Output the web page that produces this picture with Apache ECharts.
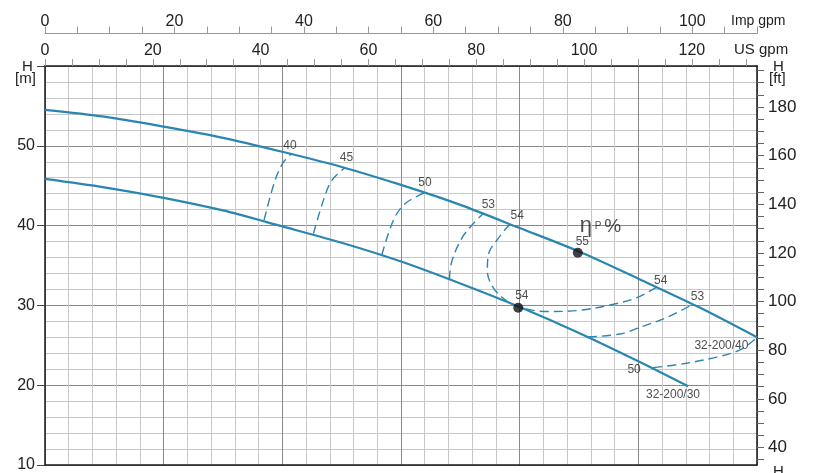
<!DOCTYPE html>
<html><head><meta charset="utf-8">
<script src="https://cdn.jsdelivr.net/npm/echarts@6/dist/echarts.min.js"></script>
<style>html,body{margin:0;padding:0;background:#fff}#c{width:827px;height:473px}</style>
</head><body><div id="c"></div>
<script>
// Flow in m3/h (bottom scale, hidden), head in m
const flowQ40 = [0, 2.5, 5, 7.5, 10, 12.5, 15, 17.5, 20, 22.5, 25, 27.5, 30];
const head40  = [54.5, 53.65, 52.4, 51.0, 49.25, 47.35, 45.1, 42.6, 39.7, 36.75, 33.35, 29.85, 26.0];
const flowQ30 = [0, 2.5, 5, 7.5, 10, 12.5, 15, 17.5, 20, 22.5, 25, 27.1];
const head30  = [45.86, 44.8, 43.48, 41.9, 39.9, 37.85, 35.5, 32.75, 29.8, 26.55, 23.0, 19.86];

// Iso-efficiency lines [Q, H]
const eff40  = [[9.23, 40.7], [9.69, 45.65], [10.04, 47.93], [10.40, 49.05]];
const eff45  = [[11.31, 39.0], [11.73, 43.16], [12.08, 45.65], [12.64, 47.25]];
const eff50  = [[14.19, 36.3], [14.68, 40.68], [15.17, 42.75], [16.01, 44.15]];
const eff53  = [[17.04, 33.25], [17.14, 35.52], [17.56, 38.41], [18.05, 40.27], [18.47, 41.52]];
const eff54  = [[19.59, 40.2], [19.10, 38.41], [18.68, 36.34], [18.64, 34.28], [18.89, 32.21], [19.45, 30.56], [19.94, 29.81], [21.14, 29.23], [22.54, 29.39], [23.95, 30.14], [24.93, 30.97], [25.78, 32.3]];
const eff53b = [[22.88, 26.05], [24.23, 26.41], [25.07, 27.25], [26.2, 28.49], [27.18, 29.94]];
const eff50b = [[25.63, 22.2], [26.9, 22.69], [28.3, 23.52], [29.29, 24.43], [29.85, 25.6], [30, 26.0]];

const bepPoints = [[19.94, 29.7], [22.45, 36.6]];
const effLabels = [[10.32, 50.07, '40'], [12.70, 48.46, '45'], [16.01, 45.36, '50'], [18.68, 42.63, '53'], [19.90, 41.18, '54'], [20.09, 31.18, '54'], [22.64, 38.0, '55'], [25.94, 33.04, '54'], [27.49, 31.05, '53'], [24.82, 21.91, '50']];
const curveNames = [[28.5, 25.0, '32-200/40'], [26.46, 18.81, '32-200/30']];
const etaLabel = [[23.4, 39.9]];

// Axis tick values
const usMax = 132.086, impMax = 110;
const usTicks = [], impTicks = [], ftTicks = [];
for (let v = 0; v <= 130; v += 5) usTicks.push(v);
for (let v = 0; v <= 110; v += 5) impTicks.push(v);
for (let v = 35; v <= 195; v += 5) ftTicks.push(v);
const usLabels = [0, 20, 40, 60, 80, 100, 120];
const impLabels = [0, 20, 40, 60, 80, 100];
const ftLabels = [40, 60, 80, 100, 120, 140, 160, 180];
const ftMin = 32.8084, ftMax = 196.85;

const blue = '#2a86b0';
const font = '"Liberation Sans", Arial, sans-serif';
const txt = '#222';

function dashed(data) {
  return { type: 'line', data: data, smooth: 0.35, symbol: 'none', silent: true,
    lineStyle: { color: blue, width: 1.4, type: [9, 5] }, z: 3 };
}

const chart = echarts.init(document.getElementById('c'), null, { renderer: 'canvas' });
chart.setOption({
  animation: false,
  backgroundColor: '#fff',
  textStyle: { fontFamily: font },
  grid: { left: 45, right: 70, top: 66, bottom: 4, containLabel: false },
  xAxis: [
    { type: 'value', min: 0, max: 30, interval: 5, position: 'bottom',
      axisLine: { show: true, onZero: false, lineStyle: { color: '#1a1a1a', width: 1.5 } },
      axisTick: { show: false }, axisLabel: { show: false },
      splitLine: { show: true, lineStyle: { color: '#8a8a8a', width: 1 } },
      minorTick: { show: false, splitNumber: 5 },
      minorSplitLine: { show: true, lineStyle: { color: '#c8c8c8', width: 1 } } },
    { type: 'value', min: 0, max: usMax, position: 'top',
      axisLine: { show: true, onZero: false, lineStyle: { color: '#1a1a1a', width: 1.5 } },
      axisTick: { show: true, customValues: usTicks, length: 7, lineStyle: { color: '#999' } },
      axisLabel: { customValues: usLabels, margin: 7, fontSize: 16, color: txt, fontFamily: font },
      splitLine: { show: false } },
    { type: 'value', min: 0, max: impMax, position: 'top', offset: 32.5,
      axisLine: { show: true, onZero: false, lineStyle: { color: '#999', width: 1.2 } },
      axisTick: { show: true, customValues: impTicks, length: 7, lineStyle: { color: '#999' } },
      axisLabel: { customValues: impLabels, margin: 4, fontSize: 16, color: txt, fontFamily: font },
      splitLine: { show: false } }
  ],
  yAxis: [
    { type: 'value', min: 10, max: 60, interval: 10, position: 'left',
      axisLine: { show: true, onZero: false, lineStyle: { color: '#1a1a1a', width: 1.5 } },
      axisTick: { show: true, length: 8, lineStyle: { color: '#444' } },
      axisLabel: { fontSize: 16, color: txt, margin: 10, fontFamily: font,
        formatter: v => (v === 60 ? '' : String(v)) },
      splitLine: { show: true, lineStyle: { color: '#8a8a8a', width: 1 } },
      minorTick: { show: false, splitNumber: 5 },
      minorSplitLine: { show: true, lineStyle: { color: '#c8c8c8', width: 1 } } },
    { type: 'value', min: ftMin, max: ftMax, position: 'right',
      axisLine: { show: true, onZero: false, lineStyle: { color: '#1a1a1a', width: 1.5 } },
      axisTick: { show: true, customValues: ftTicks, length: 7, lineStyle: { color: '#666' } },
      axisLabel: { customValues: ftLabels, fontSize: 17, color: txt, margin: 11, fontFamily: font },
      splitLine: { show: false } }
  ],
  series: [
    { type: 'line', data: flowQ40.map((q, i) => [q, head40[i]]), smooth: 0.3, symbol: 'none',
      lineStyle: { color: blue, width: 2.2 }, z: 4 },
    { type: 'line', data: flowQ30.map((q, i) => [q, head30[i]]), smooth: 0.3, symbol: 'none',
      lineStyle: { color: blue, width: 2.2 }, z: 4 },
    dashed(eff40), dashed(eff45), dashed(eff50), dashed(eff53), dashed(eff54), dashed(eff53b), dashed(eff50b),
    { type: 'scatter', data: bepPoints, symbol: 'circle', symbolSize: 10,
      itemStyle: { color: '#111' }, z: 6 },
    { type: 'scatter', data: effLabels, symbolSize: 1, itemStyle: { color: 'rgba(0,0,0,0)' }, z: 7,
      label: { show: true, position: 'inside', formatter: p => p.data[2], fontSize: 12, color: txt, fontFamily: font } },
    { type: 'scatter', data: curveNames, symbolSize: 1, itemStyle: { color: 'rgba(0,0,0,0)' }, z: 7,
      label: { show: true, position: 'inside', formatter: p => p.data[2], fontSize: 12, color: txt, fontFamily: font } },
    { type: 'scatter', data: etaLabel, symbolSize: 1, itemStyle: { color: 'rgba(0,0,0,0)' }, z: 7,
      label: { show: true, position: 'inside', formatter: '{e|η}{p| P }{c|%}', color: txt,
        rich: { e: { fontSize: 22, fontFamily: font, color: txt },
                p: { fontSize: 10, fontFamily: font, color: txt },
                c: { fontSize: 19, fontFamily: font, color: txt } } } }
  ],
  graphic: [
    { type: 'text', left: 731, top: 14, style: { text: 'Imp gpm', fontSize: 14, fill: txt, fontFamily: font } },
    { type: 'text', left: 734, top: 42, style: { text: 'US gpm', fontSize: 15, fill: txt, fontFamily: font } },
    { type: 'text', left: 22, top: 59, style: { text: 'H', fontSize: 15, fill: txt, fontFamily: font } },
    { type: 'text', left: 15, top: 71, style: { text: '[m]', fontSize: 15, fill: txt, fontFamily: font } },
    { type: 'text', left: 773, top: 59, style: { text: 'H', fontSize: 15, fill: txt, fontFamily: font } },
    { type: 'text', left: 769, top: 71, style: { text: '[ft]', fontSize: 15, fill: txt, fontFamily: font } },
    { type: 'text', left: 773, top: 464, style: { text: 'H', fontSize: 15, fill: txt, fontFamily: font } }
  ]
});
</script></body></html>
